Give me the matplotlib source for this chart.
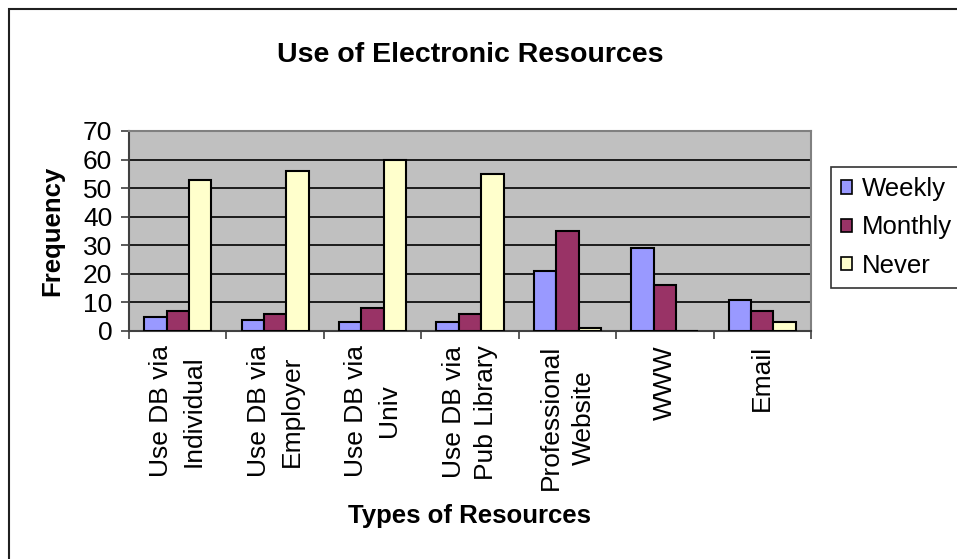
import matplotlib.pyplot as plt
from matplotlib.patches import Rectangle
import numpy as np

plt.rcParams["font.family"] = ["Liberation Sans", "DejaVu Sans"]

# resource categories and answer counts per frequency
categories = [
    "Use DB via\nIndividual",
    "Use DB via\nEmployer",
    "Use DB via\nUniv",
    "Use DB via\nPub Library",
    "Professional\nWebsite",
    "WWW",
    "Email",
]
weekly = [5, 4, 3, 3, 21, 29, 11]
monthly = [7, 6, 8, 6, 35, 16, 7]
never = [53, 56, 60, 55, 1, 0, 3]

series = [("Weekly", weekly, "#9999FF"),
          ("Monthly", monthly, "#993366"),
          ("Never", never, "#FFFFCC")]

fig = plt.figure(figsize=(9.57, 5.59), dpi=100)
ax = fig.add_axes([129 / 957, 1 - 331 / 559, 682 / 957, 200 / 559])
ax.set_facecolor("#C0C0C0")

x = np.arange(len(categories)) + 0.5
width = 0.23
handles = []
for i, (name, vals, color) in enumerate(series):
    b = ax.bar(x + (i - 1) * width, vals, width, color=color,
               edgecolor="black", linewidth=1.5, label=name, zorder=3)
    handles.append(b)

ax.set_xlim(0, len(categories))
ax.set_ylim(0, 70)
ax.set_yticks(range(0, 71, 10))
ax.yaxis.grid(True, color="black", linewidth=1.2, zorder=1)
ax.set_axisbelow(True)

# category labels at centres, tick marks on the boundaries
ax.set_xticks(x)
ax.set_xticklabels(categories, rotation=90, ha="center", va="top",
                   multialignment="center", linespacing=1.45)
ax.tick_params(axis="x", which="major", length=0, pad=10, labelsize=19)
ax.set_xticks(np.arange(len(categories) + 1), minor=True)
ax.tick_params(axis="x", which="minor", length=6, width=1.2, color="#404040")
ax.tick_params(axis="y", length=6, width=1.2, color="#404040", pad=6, labelsize=19)

for side in ["top", "right"]:
    ax.spines[side].set_color("#808080")
    ax.spines[side].set_linewidth(1.5)
for side in ["left", "bottom"]:
    ax.spines[side].set_color("#404040")
    ax.spines[side].set_linewidth(1.5)

fig.text(470 / 957, 1 - 62 / 559, "Use of Electronic Resources",
         ha="center", va="baseline", fontsize=20.5, fontweight="bold")
fig.text(470 / 957, 1 - 523 / 559, "Types of Resources",
         ha="center", va="baseline", fontsize=18.5, fontweight="bold")
fig.text(52 / 957, 1 - 231 / 559, "Frequency", rotation=90,
         ha="center", va="center", fontsize=18.5, fontweight="bold")

leg = fig.legend(handles=handles, loc="upper left",
                 bbox_to_anchor=(831 / 957, 1 - 167 / 559),
                 fontsize=18.5, frameon=True, fancybox=False,
                 edgecolor="black", borderaxespad=0, borderpad=0.4,
                 labelspacing=0.55, handlelength=0.42, handleheight=0.42,
                 handletextpad=0.4)
leg.get_frame().set_linewidth(1.2)
for p in leg.get_patches():
    p.set_linewidth(1.2)

# chart border
fig.patches.append(Rectangle((8.5 / 957, -0.05), 1.1, 1 - 9 / 559 + 0.05,
                             transform=fig.transFigure, fill=False,
                             edgecolor="#202020", linewidth=1.5))

fig.savefig("out.png", dpi=100)
